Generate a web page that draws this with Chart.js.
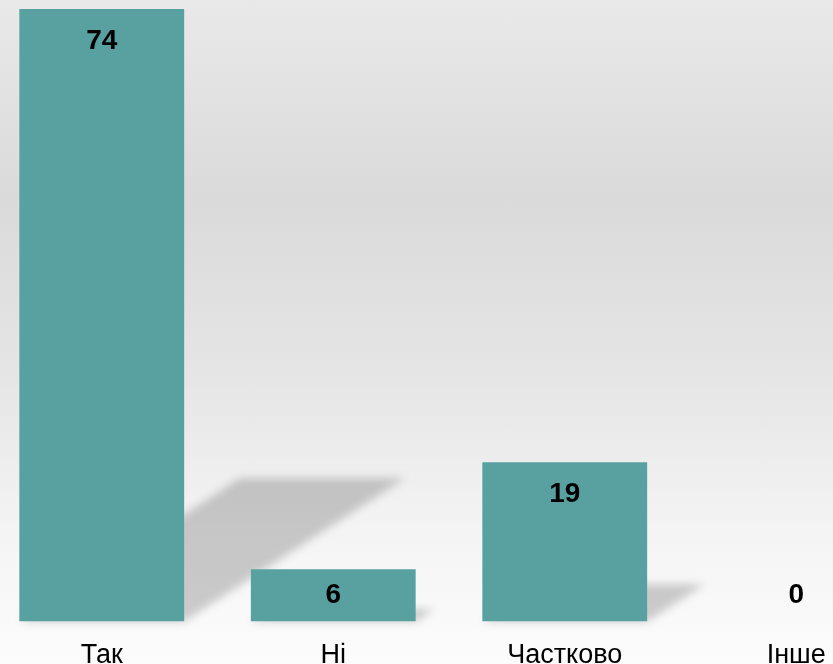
<!DOCTYPE html>
<html>
<head>
<meta charset="utf-8">
<script src="https://cdn.jsdelivr.net/npm/chart.js@4"></script>
<style>
  html, body { margin: 0; padding: 0; }
  body {
    width: 833px; height: 664px; overflow: hidden; position: relative;
    background: linear-gradient(to bottom, #e9e9e9 0%, #dadada 30%, #e6e6e6 58%, #f4f4f4 80%, #fcfcfc 100%);
  }
  #wrap { position: absolute; left: -14px; top: 0; width: 926px; height: 700px; }
</style>
</head>
<body>
<div id="wrap"><canvas id="c" width="926" height="700"></canvas></div>
<script>
const categories = ["Так", "Ні", "Частково", "Інше"];
const values = [74, 6, 19, 0];
const barColor = "#59a1a0";

const shadowPlugin = {
  id: 'barShadows',
  beforeDatasetsDraw(chart) {
    const ctx = chart.ctx;
    const meta = chart.getDatasetMeta(0);
    ctx.save();
    ctx.filter = 'blur(4px)';
    ctx.fillStyle = 'rgba(0,0,0,0.19)';
    meta.data.forEach((el, i) => {
      if (values[i] === 0) return;
      const p = el.getProps(['x', 'y', 'base', 'width'], true);
      const l = p.x - p.width / 2, r = p.x + p.width / 2;
      const h = p.base - p.y;
      const dx = h * 0.36, dy = h * 0.234;
      ctx.beginPath();
      ctx.moveTo(l, p.base);
      ctx.lineTo(r, p.base);
      ctx.lineTo(r + dx, p.base - dy);
      ctx.lineTo(l + dx, p.base - dy);
      ctx.closePath();
      ctx.fill();
    });
    ctx.restore();
  }
};

const labelPlugin = {
  id: 'barLabels',
  afterDatasetsDraw(chart) {
    const ctx = chart.ctx;
    const meta = chart.getDatasetMeta(0);
    ctx.save();
    ctx.font = 'bold 28px "Liberation Sans", Arial, sans-serif';
    ctx.fillStyle = '#000';
    ctx.textAlign = 'center';
    ctx.textBaseline = 'middle';
    meta.data.forEach((el, i) => {
      const p = el.getProps(['x', 'y', 'base'], true);
      const y = Math.min(p.y + 32, p.base - 26);
      ctx.fillText(String(values[i]), p.x, y);
    });
    ctx.restore();
  }
};

new Chart(document.getElementById('c'), {
  type: 'bar',
  data: {
    labels: categories,
    datasets: [{
      data: values,
      base: -0.35,
      backgroundColor: (c) => (c.raw === 0 ? 'rgba(0,0,0,0)' : barColor),
      borderWidth: 0,
      categoryPercentage: 1,
      barPercentage: 0.712
    }]
  },
  options: {
    responsive: false,
    devicePixelRatio: 1,
    animation: false,
    layout: { padding: { top: 9, bottom: 10, left: 0, right: 0 } },
    plugins: { legend: { display: false }, tooltip: { enabled: false } },
    scales: {
      x: {
        offset: true,
        grid: { display: false, drawTicks: false },
        border: { display: false },
        ticks: {
          autoSkip: false, maxRotation: 0, minRotation: 0,
          padding: 18, color: '#000',
          font: { family: '"Liberation Sans", Arial, sans-serif', size: 27 }
        }
      },
      y: {
        display: false,
        min: -0.35,
        max: 74
      }
    }
  },
  plugins: [shadowPlugin, labelPlugin]
});
</script>
</body>
</html>
